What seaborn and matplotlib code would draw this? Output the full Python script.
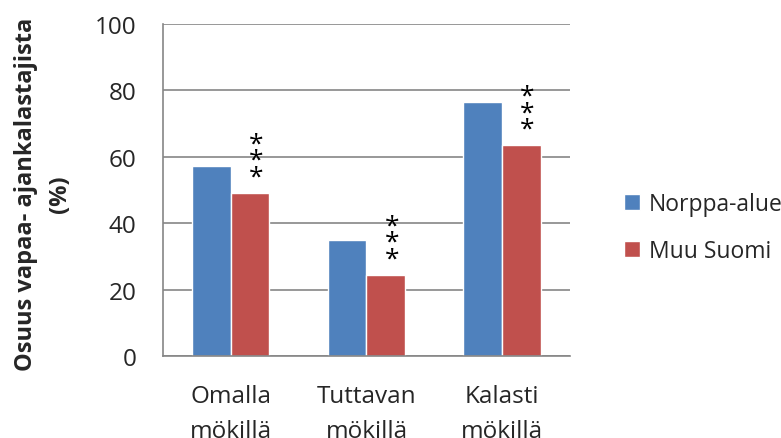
import matplotlib
matplotlib.use("Agg")
import matplotlib.pyplot as plt
import seaborn as sns
import pandas as pd
import numpy as np

categories = ["Omalla\nmökillä", "Tuttavan\nmökillä", "Kalasti\nmökillä"]
series_names = ["Norppa-alue", "Muu Suomi"]
norppa_values = [57.2, 34.8, 76.5]
muu_values = [49.1, 24.4, 63.5]
significance = ["***", "***", "***"]
y_ticks = [0, 20, 40, 60, 80, 100]
colors = ["#4F81BD", "#C0504D"]

df = pd.DataFrame({
    "cat": categories * 2,
    "group": [series_names[0]] * 3 + [series_names[1]] * 3,
    "value": norppa_values + muu_values,
})

sns.set_theme(style="white")
plt.rcParams["font.family"] = ["Open Sans", "DejaVu Sans"]

fig = plt.figure(figsize=(7.81, 4.39), dpi=100)
ax = fig.add_axes([0.2087, 0.1868, 0.5211, 0.7562])

bar_width = 0.57
sns.barplot(data=df, x="cat", y="value", hue="group", palette=colors,
            width=bar_width, ax=ax, saturation=1, legend=True)

ax.set_ylim(0, 100)
ax.set_xlim(-0.5, len(categories) - 0.5)
ax.set_yticks(y_ticks)
ax.set_yticklabels([str(t) for t in y_ticks], fontsize=17.5)
ax.yaxis.grid(True, color="#868686", linewidth=1.2)
ax.set_axisbelow(True)

# category labels centred, tick marks on the boundaries
ax.set_xticks(range(len(categories)))
ax.set_xticklabels(categories, fontsize=17.5, linespacing=1.6)
ax.tick_params(axis="x", length=0, pad=20)
ax.set_xticks(np.arange(-0.5, len(categories)), minor=True)
ax.tick_params(axis="x", which="minor", length=6, color="#868686", width=1.2, direction="out")
ax.tick_params(axis="y", length=5, color="#868686", width=1.2, direction="out", pad=14)

for s in ["top", "right"]:
    ax.spines[s].set_visible(False)
for s in ["left", "bottom"]:
    ax.spines[s].set_color("#868686")
    ax.spines[s].set_linewidth(1.2)

ax.set_xlabel("")
ax.set_ylabel("Osuus vapaa- ajankalastajista\n(%)", fontsize=17, fontweight="bold",
              linespacing=1.55)
ax.yaxis.set_label_coords(-0.2236, 0.49)

# significance stars stacked above the red bars
for i, (v, s) in enumerate(zip(muu_values, significance)):
    ax.text(i + bar_width / 4 + 0.045, v + 1, "\n".join(s), ha="center", va="bottom",
            fontsize=19, linespacing=0.56, color="black")

handles, labels = ax.get_legend_handles_labels()
ax.legend(handles, labels, loc="center left", bbox_to_anchor=(0.772, 0.4795),
          bbox_transform=fig.transFigure, frameon=False, fontsize=16.5,
          handlelength=0.7, handleheight=0.7, handletextpad=0.4, labelspacing=1.0)

fig.savefig("out.png", dpi=100)
